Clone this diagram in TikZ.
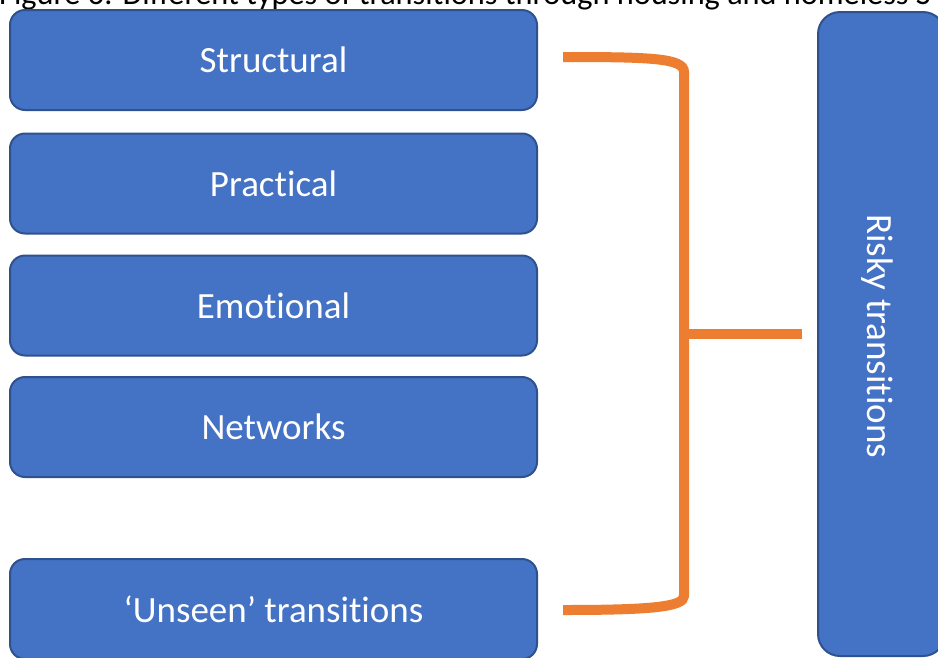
\documentclass[tikz,border=0pt]{standalone}
\usepackage{fontspec}
\setmainfont{Carlito}[Ligatures={NoCommon}]
\usetikzlibrary{calc}
\definecolor{boxfill}{HTML}{4472C4}
\definecolor{boxline}{HTML}{2F528F}
\definecolor{brkcol}{HTML}{ED7D31}
\tikzset{
  box/.style={draw=boxline, fill=boxfill, line width=2pt, rounded corners=15pt,
    minimum width=527pt, minimum height=100pt, inner sep=0pt, text=white,
    font=\fontsize{37}{44}\selectfont},
  bigbox/.style={draw=boxline, fill=boxfill, line width=2pt, rounded corners=22pt,
    minimum width=127pt, minimum height=644pt, inner sep=0pt},
  vlabel/.style={rotate=-90, text=white, font=\fontsize{37}{44}\selectfont, inner sep=0pt},
  brk/.style={draw=brkcol, line width=10pt},
  title/.style={font=\fontsize{32.3}{37}\selectfont, inner sep=0pt, text=black}
}
\begin{document}
\begin{tikzpicture}[x=1pt,y=-1pt]
\path[use as bounding box, clip] (0,0) rectangle (938,657);
\fill[white] (0,0) rectangle (938,657);
\node[title, anchor=base west] (T) at (-1,4) {Figure 6: Different types of transitions through housing and homeless S};
\node[box] (S) at (273.5,60) {\raisebox{-2pt}{Structural}};
\node[box] (P) at (273.5,183.5) {\raisebox{-2pt}{Practical}};
\node[box] (E) at (273.5,305.5) {\raisebox{-2pt}{Emotional}};
\node[box] (N) at (273.5,427) {\raisebox{-2pt}{Networks}};
\node[box] (U) at (273.5,609) {\raisebox{-2pt}{‘Unseen’ transitions}};
\node[bigbox] (R) at (881.5,334) {};
\node[vlabel] (RL) at (877,336) {Risky transitions};
\draw[brk] ([xshift=25pt,yshift=3pt]S.east) .. controls (650,57) and (684,58) .. (684,72)
  -- (684,596) .. controls (684,607) and (650,610) .. ([xshift=25pt,yshift=-1pt]U.east);
\coordinate (M) at (684,333.5);
\draw[brk] (M) -- ([xshift=-15pt]R.west |- M);
\end{tikzpicture}
\end{document}
